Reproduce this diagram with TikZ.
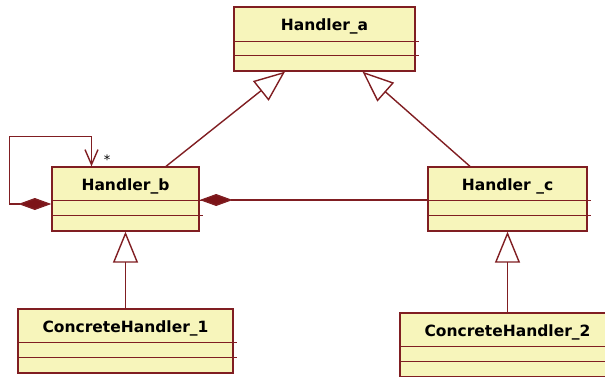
\documentclass[tikz,border=0pt]{standalone}
\usepackage{fontspec}
\setmainfont{DejaVu Sans}
\usetikzlibrary{arrows.meta,calc}
\definecolor{umlline}{RGB}{128,30,34}
\definecolor{umlfill}{RGB}{247,245,187}
\definecolor{umldark}{RGB}{124,20,24}
\tikzset{
  classbox/.style={draw=umlline,fill=umlfill,line width=1.3pt,rectangle,inner sep=0pt,minimum height=64pt},
  classname/.style={anchor=base,font=\fontsize{15.5}{18}\selectfont\bfseries},
  classsep/.style={umlline,line width=1.4pt},
  inherit/.style={umlline,line width=1.4pt,-{Triangle[length=31pt,width=25pt,fill=white]}},
  compose/.style={umlline,line width=1.4pt,{Diamond[length=33pt,width=12pt,fill=umldark]}-},
  selfcompose/.style={umlline,line width=1.4pt,{Diamond[length=33pt,width=12pt,fill=umldark]}-{Straight Barb[length=15pt,width=13pt]}},
  multlabel/.style={inner sep=0pt,font=\fontsize{13}{15}\selectfont}
}
\begin{document}
\begin{tikzpicture}[x=1pt,y=-1pt]
  \useasboundingbox (0,0) rectangle (605,376);
  % classes
  \node[classbox,minimum width=181pt] (ha) at (324.5,39) {};
  \node[classbox,minimum width=147pt] (hb) at (125.5,199) {};
  \node[classbox,minimum width=159pt] (hc) at (507.5,199) {};
  \node[classbox,minimum width=215pt] (ch1) at (125.5,341) {};
  \node[classbox,minimum width=215pt] (ch2) at (507.5,345) {};
  \foreach \n/\t/\s in {ha/Handler\_a/35, hb/Handler\_b/34, hc/Handler \_c/34,
                        ch1/ConcreteHandler\_1/34, ch2/ConcreteHandler\_2/34} {
    \node[classname] at ($(\n.north)+(0,24)$) {\t};
    \draw[classsep] ($(\n.north west)+(0,\s)$) -- ($(\n.north east)+(3,\s)$);
    \draw[classsep] ($(\n.north west)+(0,49)$) -- ($(\n.north east)+(3,49)$);
  }
  % generalisations
  \draw[inherit] ($(hb.north)+(40.5,0)$) -- ($(ha.south)+(-39.5,0)$);
  \draw[inherit] ($(hc.north)+(-37.5,0)$) -- ($(ha.south)+(38,0)$);
  \draw[inherit] (ch1.north) -- (hb.south);
  \draw[inherit] (ch2.north) -- (hc.south);
  % compositions
  \draw[compose] ($(hb.east)+(0,1)$) -- ($(hc.west)+(0,1)$);
  \draw[selfcompose] ($(hb.west)+(0,5)$) -- ++(-42,0) |- ($(hb.north)+(-34,-30)$) -- ($(hb.north)+(-34,0)$);
  \node[multlabel] (mult) at ($(hb.north)+(-18.5,-7)$) {*};
\end{tikzpicture}
\end{document}
